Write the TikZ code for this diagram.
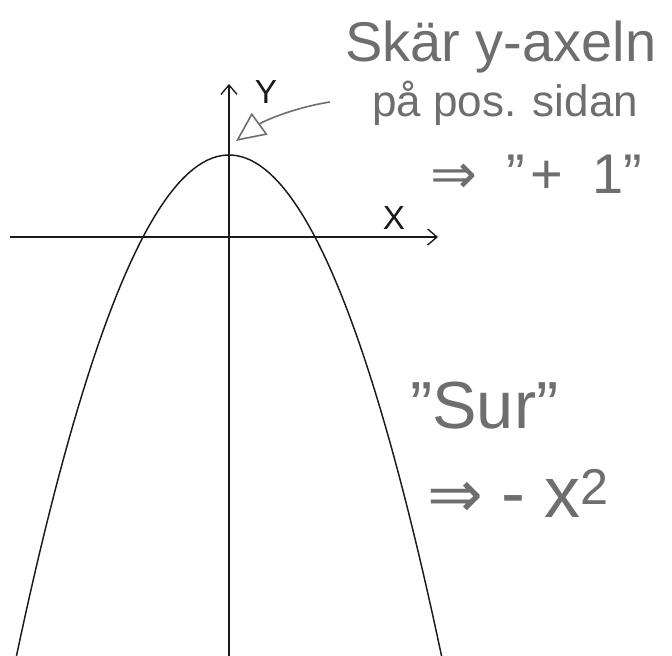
\documentclass[tikz,border=0pt]{standalone}
\usepackage{fontspec}
\setmainfont{Liberation Sans}
\newfontfamily\skarrow{DejaVu Sans}
\usetikzlibrary{arrows.meta}
\definecolor{skpencil}{HTML}{6E6E6E}
\definecolor{skink}{HTML}{1A1A1A}
\tikzset{
  skaxis/.style={-{Straight Barb[length=7pt,width=12pt]}, draw=skink, line width=1pt},
  skcurve/.style={draw=skink, line width=1.1pt},
  sklabel/.style={font=\fontsize{25}{25}\selectfont, text=skink, inner sep=0pt},
  sknote/.style={text=skpencil, inner sep=0pt, anchor=base west},
  skpoint/.style={-{Triangle[open,length=22pt,width=20pt]}, draw=skpencil, line width=1.2pt}
}
\begin{document}
\begin{tikzpicture}[x=0.75pt, y=-0.75pt]
\useasboundingbox (0,0) rectangle (672,656);
% axes
\coordinate (xstart) at (10,237);
\coordinate (xend) at (438,237);
\coordinate (ybot) at (229,656);
\coordinate (ytop) at (229,84);
\draw[skaxis] (xstart) -- (xend);
\draw[skaxis] (ybot) -- (ytop);
\node[sklabel] (ylab) at (266,92) {Y};
\node[sklabel] (xlab) at (394,218) {X};
% the parabola
\draw[skcurve] plot[domain=-213:213, samples=90] ({229+\x},{155+(0.1053*\x)*(0.1053*\x)});
% notes
\node[sknote, font=\fontsize{42}{42}\selectfont] (skar) at (345,62) {Skär y-axeln};
\node[sknote, font=\fontsize{33}{33}\selectfont] (sidan) at (372,117) {på pos. sidan};
\node[sknote, font=\fontsize{42}{42}\selectfont] (plusone) at (430,194)
  {{\skarrow ⇒}\hspace{22pt}"\hspace{4pt}+\hspace{22pt}1\hspace{0pt}"};
\node[sknote, font=\fontsize{50}{50}\selectfont] (sur) at (410,428) {"Sur"};
\node[sknote, font=\fontsize{54}{54}\selectfont] (minusx) at (427,517)
  {{\skarrow\fontsize{50}{50}\selectfont ⇒}\hspace{14pt}-\hspace{14pt}x\textsuperscript{2}};
\coordinate (pstart) at (330,102);
\coordinate (ptip) at (236,141);
\draw[skpoint] (pstart) .. controls (292,108) and (262,122) .. (ptip);
\end{tikzpicture}
\end{document}
